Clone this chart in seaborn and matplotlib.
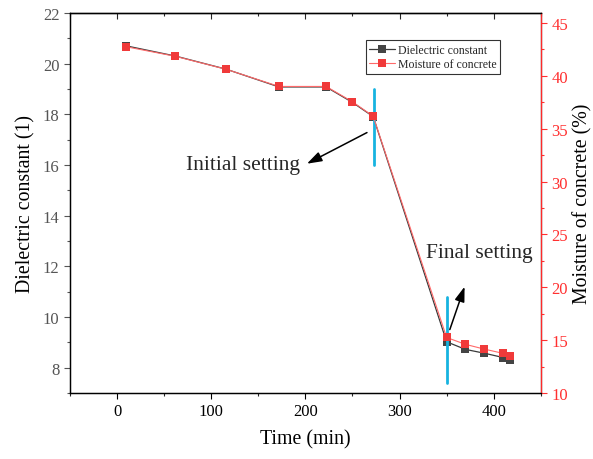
import matplotlib
matplotlib.use("Agg")
import matplotlib.pyplot as plt
from matplotlib.ticker import MultipleLocator
import seaborn as sns
import pandas as pd

# Measurements during concrete setting
time_min = [10, 62, 116, 172, 222, 250, 272, 350, 370, 390, 410, 417]
dielectric = [20.70, 20.30, 19.78, 19.08, 19.08, 18.47, 17.91, 9.02, 8.72, 8.57, 8.40, 8.32]
moisture = [42.75, 41.85, 40.62, 39.00, 39.00, 37.55, 36.18, 15.25, 14.60, 14.15, 13.75, 13.52]

# Setting events: time, vertical extent of the marker line (left axis units)
setting_times = [273, 350]
setting_spans = [(16.0, 19.0), (7.4, 10.8)]

df = pd.DataFrame({"time": time_min, "dielectric": dielectric, "moisture": moisture})

sns.set_style("ticks")
plt.rcParams["font.family"] = ["Liberation Serif", "DejaVu Serif"]

fig = plt.figure(figsize=(5.93, 4.60), dpi=100)
ax = fig.add_axes([0.118, 0.1435, 0.794, 0.8261])
ax2 = ax.twinx()

dark = "#3a3a3a"
red = "#f03a3a"

sns.lineplot(data=df, x="time", y="dielectric", ax=ax, color=dark, linewidth=0.9,
             marker="s", markersize=5.5, markeredgewidth=0, markerfacecolor="#444444",
             label="Dielectric constant", legend=False)
sns.lineplot(data=df, x="time", y="moisture", ax=ax2, color="#ff6a6a", linewidth=0.8,
             marker="s", markersize=5.5, markeredgewidth=0, markerfacecolor=red,
             label="Moisture of concrete", legend=False)

ax.set_xlim(-50, 450)
ax.set_ylim(7, 22)
ax2.set_ylim(10, 45.95)

ax.xaxis.set_major_locator(MultipleLocator(100))
ax.xaxis.set_minor_locator(MultipleLocator(50))
ax.yaxis.set_major_locator(MultipleLocator(2))
ax.yaxis.set_minor_locator(MultipleLocator(1))
ax2.yaxis.set_major_locator(MultipleLocator(5))
ax2.yaxis.set_minor_locator(MultipleLocator(2.5))

ax.set_xlabel("Time (min)", fontsize=14.3, color="black", labelpad=7)
ax.set_ylabel("Dielectric constant (1)", fontsize=14.3, color="black", labelpad=5)
ax2.set_ylabel("Moisture of concrete (%)", fontsize=14.3, color="black", labelpad=4)

for a in (ax, ax2):
    for s in a.spines.values():
        s.set_color("black")
        s.set_linewidth(0.9)
ax2.spines["right"].set_color("#ff2a2a")

ax.tick_params(axis="x", which="major", direction="out", length=4, width=0.8,
               labelsize=12, colors="black")
ax.tick_params(axis="x", which="minor", direction="out", length=2.5, width=0.8)
ax.tick_params(axis="y", which="major", direction="out", length=4, width=0.8,
               labelsize=12, colors="#555555")
ax.tick_params(axis="y", which="minor", direction="out", length=2.5, width=0.8, colors="#555555")
ax2.tick_params(axis="y", which="major", direction="out", length=4, width=0.8,
                labelsize=12, colors="#ff3030")
ax2.tick_params(axis="y", which="minor", direction="out", length=2.5, width=0.8, colors="#ff3030")

# Inward ticks along the top frame
top = ax.secondary_xaxis("top")
top.xaxis.set_major_locator(MultipleLocator(100))
top.xaxis.set_minor_locator(MultipleLocator(50))
top.tick_params(axis="x", which="major", direction="in", length=4, width=0.8, labeltop=False)
top.tick_params(axis="x", which="minor", direction="in", length=2.5, width=0.8)
top.spines["top"].set_linewidth(0.9)

# Setting-time markers
for t, (lo, hi) in zip(setting_times, setting_spans):
    ax.plot([t, t], [lo, hi], color="#17b3e0", linewidth=2.0, zorder=5)

arrow = dict(arrowstyle="-|>,head_length=0.9,head_width=0.3", color="black", lw=1.1)
ax.annotate("", xy=(199, 16.0), xytext=(268, 17.33), arrowprops=arrow)
ax.text(134, 16.0, "Initial setting", fontsize=15.5, ha="center", va="center")
ax.annotate("", xy=(370, 11.3), xytext=(352.4, 9.4), arrowprops=arrow)
ax.text(385, 12.55, "Final setting", fontsize=15.5, ha="center", va="center")

handles = ax.get_lines()[:1] + ax2.get_lines()[:1]
leg = ax2.legend(handles, [h.get_label() for h in handles], loc="upper left",
                 bbox_to_anchor=(0.628, 0.928), fontsize=8.5, frameon=True,
                 fancybox=False, edgecolor="black", borderpad=0.3, handlelength=2.2,
                 handletextpad=0.2, labelspacing=0.2, borderaxespad=0)
leg.get_frame().set_linewidth(0.8)

fig.savefig("out.png", dpi=100)
